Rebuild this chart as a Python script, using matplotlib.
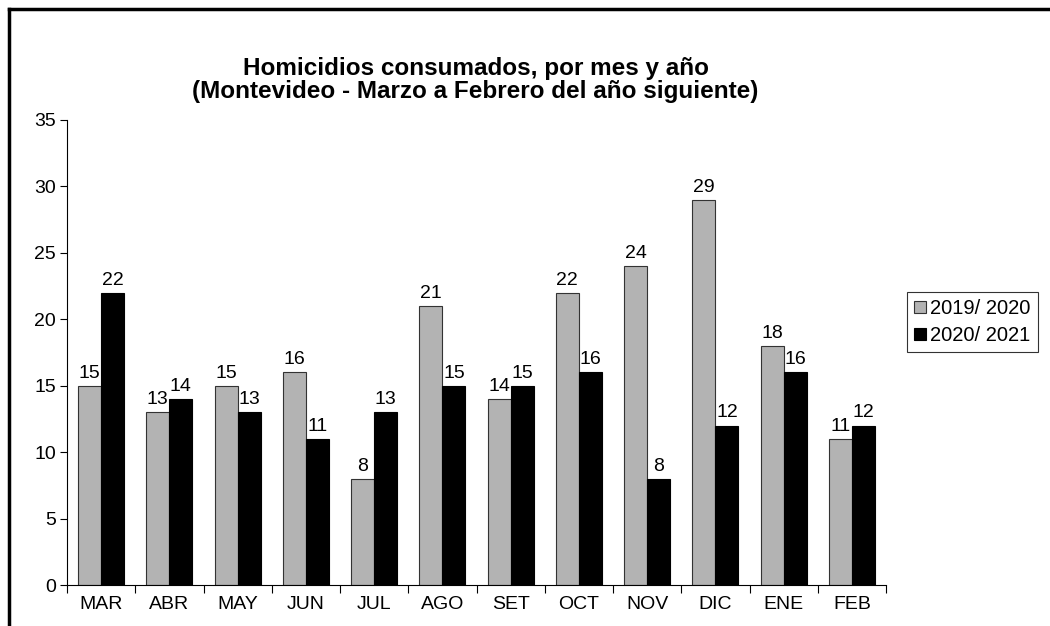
import numpy as np
import matplotlib.pyplot as plt
from matplotlib.lines import Line2D

plt.rcParams['font.family'] = ['Liberation Sans', 'DejaVu Sans']

meses = ['MAR', 'ABR', 'MAY', 'JUN', 'JUL', 'AGO', 'SET', 'OCT', 'NOV', 'DIC', 'ENE', 'FEB']
serie_2019 = [15, 13, 15, 16, 8, 21, 14, 22, 24, 29, 18, 11]
serie_2020 = [22, 14, 13, 11, 13, 15, 15, 16, 8, 12, 16, 12]
etiquetas = ['2019/ 2020', '2020/ 2021']

fig = plt.figure(figsize=(10.5, 6.26), dpi=100)
ax = fig.add_axes([67/1050, 41/626, 819/1050, 465/626])

x = np.arange(len(meses))
w = 0.337
b1 = ax.bar(x - w/2, serie_2019, w, color='#b3b3b3', edgecolor='#333333', linewidth=0.8, label=etiquetas[0])
b2 = ax.bar(x + w/2, serie_2020, w, color='black', edgecolor='black', linewidth=0.8, label=etiquetas[1])
ax.bar_label(b1, padding=3, fontsize=14)
ax.bar_label(b2, padding=3, fontsize=14)

ax.set_xlim(-0.5, len(meses) - 0.5)
ax.set_ylim(0, 35)
ax.set_yticks(range(0, 36, 5))
ax.set_xticks(x)
ax.set_xticklabels(meses, fontsize=14)
ax.tick_params(axis='x', length=0, pad=8)
ax.set_xticks(np.arange(-0.5, len(meses)), minor=True)
ax.tick_params(axis='x', which='minor', length=6, direction='out', width=0.8)
ax.tick_params(axis='y', length=5, width=0.8, labelsize=14, pad=3)
for s in ['top', 'right']:
    ax.spines[s].set_visible(False)
for s in ['left', 'bottom']:
    ax.spines[s].set_linewidth(0.8)

fig.text(0.453, 0.873, 'Homicidios consumados, por mes y año\n(Montevideo - Marzo a Febrero del año siguiente)',
         ha='center', va='center', fontsize=17.5, fontweight='bold', linespacing=1.0)

leg = fig.legend(loc='upper left', bbox_to_anchor=(907/1050, 1 - 292/626), fontsize=14.5, frameon=True,
                 fancybox=False, edgecolor='black', handlelength=0.6, handleheight=0.6,
                 handletextpad=0.2, borderpad=0.35, labelspacing=0.4, borderaxespad=0)
leg.get_frame().set_linewidth(0.8)

# marco exterior
fig.add_artist(Line2D([9/1050, 1], [1 - 9/626, 1 - 9/626], color='black', linewidth=2.5))
fig.add_artist(Line2D([9/1050, 9/1050], [0, 1 - 9/626], color='black', linewidth=2.5))

fig.savefig('out.png', dpi=100)
